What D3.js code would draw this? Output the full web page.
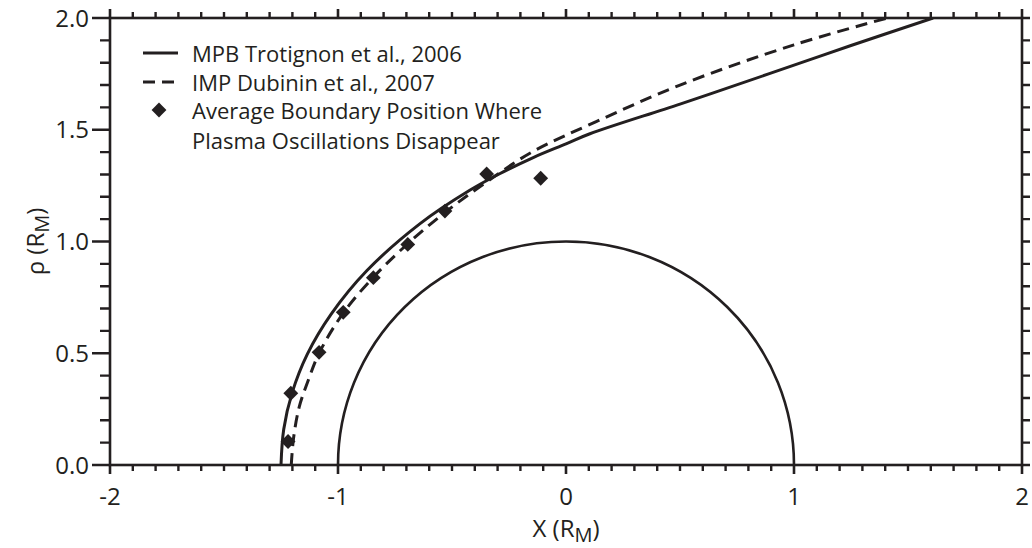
<!DOCTYPE html>
<html>
<head>
<meta charset="utf-8">
<script src="https://cdn.jsdelivr.net/npm/d3@7"></script>
<style>
  body { margin: 0; background: #fff; }
  svg { display: block; }
  text { font-family: "Open Sans", "Noto Sans", sans-serif; fill: #231f20; }
</style>
</head>
<body>
<svg id="chart" width="1032" height="548"></svg>
<script>
// Axis ticks
const xMajorTicks = [-2, -1, 0, 1, 2];
const xTickLabels = ["-2", "-1", "0", "1", "2"];
const yMajorTicks = [0, 0.5, 1.0, 1.5, 2.0];
const yTickLabels = ["0.0", "0.5", "1.0", "1.5", "2.0"];

// Magnetic pileup boundary (Trotignon et al., 2006), X vs rho in Mars radii
const mpbX   = [-1.250, -1.238, -1.201, -1.135, -1.030, -0.873, -0.640, -0.424, -0.291, -0.139, 0.000, 0.105, 0.500, 0.895, 1.250, 1.610];
const mpbRho = [ 0.000,  0.160,  0.324,  0.495,  0.675,  0.870,  1.080,  1.228,  1.303,  1.378, 1.437, 1.482, 1.615, 1.752, 1.877, 2.000];

// Induced magnetosphere boundary (Dubinin et al., 2007)
const impX   = [-1.205, -1.195, -1.170, -1.130, -1.083, -0.977, -0.845, -0.694, -0.531, -0.350, -0.150, 0.130, 0.500, 1.000, 1.410];
const impRho = [ 0.000,  0.120,  0.260,  0.380,  0.500,  0.680,  0.840,  0.990,  1.130,  1.265,  1.400, 1.535, 1.700, 1.880, 2.000];

// Average boundary position where plasma oscillations disappear
const obsX   = [-1.219, -1.207, -1.083, -0.977, -0.845, -0.694, -0.531, -0.348, -0.111];
const obsRho = [ 0.105,  0.321,  0.504,  0.683,  0.838,  0.987,  1.136,  1.302,  1.283];

const legendLabels = [
  ["MPB Trotignon et al., 2006"],
  ["IMP Dubinin et al., 2007"],
  ["Average Boundary Position Where", "Plasma Oscillations Disappear"]
];

const svg = d3.select("#chart");
const ink = "#231f20";

const x = d3.scaleLinear().domain([-2, 2]).range([110, 1022]);
const y = d3.scaleLinear().domain([0, 2]).range([465, 18]);

const near = (a, b) => Math.abs(a - b) < 1e-9;
const xMinor = d3.range(-20, 21).map(i => i / 10).filter(v => !xMajorTicks.some(t => near(t, v)));
const yMinor = d3.range(0, 21).map(i => i / 10).filter(v => !yMajorTicks.some(t => near(t, v)));

const frameTop = y(2), frameBottom = y(0), frameLeft = x(-2), frameRight = x(2);

svg.append("defs").append("clipPath").attr("id", "plot-clip")
  .append("rect")
  .attr("x", frameLeft).attr("y", frameTop)
  .attr("width", frameRight - frameLeft).attr("height", frameBottom - frameTop);

// Mars (unit circle)
const plot = svg.append("g").attr("clip-path", "url(#plot-clip)");
plot.append("ellipse")
  .attr("cx", x(0)).attr("cy", y(0))
  .attr("rx", x(1) - x(0)).attr("ry", y(0) - y(1))
  .attr("fill", "none").attr("stroke", ink).attr("stroke-width", 2.6);

const line = d3.line()
  .x(d => x(d[0])).y(d => y(d[1]))
  .curve(d3.curveCatmullRom.alpha(0.5));

plot.append("path")
  .datum(mpbX.map((v, i) => [v, mpbRho[i]]))
  .attr("d", line)
  .attr("fill", "none").attr("stroke", ink).attr("stroke-width", 3);

plot.append("path")
  .datum(impX.map((v, i) => [v, impRho[i]]))
  .attr("d", line)
  .attr("fill", "none").attr("stroke", ink).attr("stroke-width", 3)
  .attr("stroke-dasharray", "12,7");

const diamond = d3.symbol().type(d3.symbolSquare).size(110);
svg.append("g").selectAll("path")
  .data(obsX.map((v, i) => [v, obsRho[i]]))
  .join("path")
  .attr("d", diamond)
  .attr("transform", d => `translate(${x(d[0])},${y(d[1])}) rotate(45)`)
  .attr("fill", ink);

// Frame
svg.append("rect")
  .attr("x", frameLeft).attr("y", frameTop)
  .attr("width", frameRight - frameLeft).attr("height", frameBottom - frameTop)
  .attr("fill", "none").attr("stroke", ink).attr("stroke-width", 2.6);

// Ticks on all four sides, pointing outward
function tickPath(values, pos, fixed, len, vertical) {
  return values.map(v => {
    const p = pos(v);
    return vertical
      ? `M${p},${fixed}V${fixed + len}`
      : `M${fixed},${p}H${fixed + len}`;
  }).join("");
}

const tickSpecs = [
  { d: tickPath(xMinor, x, frameBottom, 6, true), w: 2.4 },
  { d: tickPath(xMinor, x, frameTop, -6, true), w: 2.4 },
  { d: tickPath(xMajorTicks, x, frameBottom, 9, true), w: 2.6 },
  { d: tickPath(xMajorTicks, x, frameTop, -9, true), w: 2.6 },
  { d: tickPath(yMinor, y, frameLeft, -10, false), w: 2.4 },
  { d: tickPath(yMinor, y, frameRight, 8, false), w: 2.4 },
  { d: tickPath(yMajorTicks, y, frameLeft, -18, false), w: 2.6 },
  { d: tickPath(yMajorTicks, y, frameRight, 8, false), w: 2.6 }
];
svg.append("g").selectAll("path").data(tickSpecs).join("path")
  .attr("d", d => d.d)
  .attr("fill", "none").attr("stroke", ink).attr("stroke-width", d => d.w);

// Tick labels
svg.append("g").selectAll("text").data(xMajorTicks).join("text")
  .attr("x", d => x(d)).attr("y", 505)
  .attr("text-anchor", "middle").attr("font-size", 24)
  .text((d, i) => xTickLabels[i]);
svg.append("g").selectAll("text").data(yMajorTicks).join("text")
  .attr("x", frameLeft - 21).attr("y", d => y(d)).attr("dy", "0.36em")
  .attr("text-anchor", "end").attr("font-size", 24)
  .text((d, i) => yTickLabels[i]);

// Axis titles
const xTitle = svg.append("text")
  .attr("x", x(0)).attr("y", 537)
  .attr("text-anchor", "middle").attr("font-size", 24);
xTitle.append("tspan").text("X (R");
xTitle.append("tspan").attr("font-size", 20).attr("dy", 5).text("M");
xTitle.append("tspan").attr("dy", -5).text(")");

const yTitle = svg.append("text")
  .attr("transform", `translate(44,${y(1)}) rotate(-90)`)
  .attr("text-anchor", "middle").attr("font-size", 24);
yTitle.append("tspan").text("\u03c1 (R");
yTitle.append("tspan").attr("font-size", 20).attr("dy", 5).text("M");
yTitle.append("tspan").attr("dy", -5).text(")");

// Legend
const legend = svg.append("g").attr("transform", "translate(143,0)");
const rowY = [53, 82, 110];
legend.append("line").attr("x1", 0).attr("x2", 35).attr("y1", rowY[0]).attr("y2", rowY[0])
  .attr("stroke", ink).attr("stroke-width", 3);
legend.append("line").attr("x1", 0).attr("x2", 35).attr("y1", rowY[1]).attr("y2", rowY[1])
  .attr("stroke", ink).attr("stroke-width", 3).attr("stroke-dasharray", "12,7");
legend.append("path").attr("d", diamond)
  .attr("transform", `translate(16,${rowY[2]}) rotate(45)`).attr("fill", ink);

legendLabels.forEach((lines, i) => {
  lines.forEach((t, j) => {
    legend.append("text")
      .attr("x", 49).attr("y", rowY[i] + 8.5 + j * 30)
      .attr("font-size", 22)
      .text(t);
  });
});
</script>
</body>
</html>
